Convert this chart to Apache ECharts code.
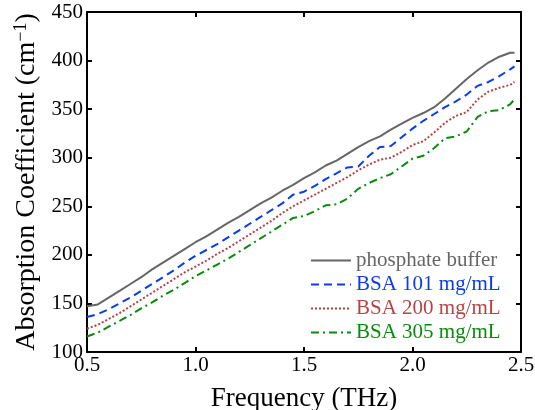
<!DOCTYPE html>
<html>
<head>
<meta charset="utf-8">
<script src="https://cdn.jsdelivr.net/npm/echarts@6/dist/echarts.min.js"></script>
<style>
  html, body { margin: 0; padding: 0; background: #fff; }
  #chart { width: 535px; height: 410px; }
</style>
</head>
<body>
<div id="chart"></div>
<script>
// frequency (THz)
const freq = [0.50, 0.55, 0.60, 0.65, 0.70, 0.75, 0.80, 0.85, 0.90, 0.95,
  1.00, 1.05, 1.10, 1.15, 1.20, 1.25, 1.30, 1.35, 1.40, 1.45,
  1.50, 1.55, 1.60, 1.65, 1.70, 1.75, 1.80, 1.85, 1.90, 1.95,
  2.00, 2.05, 2.10, 2.15, 2.20, 2.25, 2.30, 2.35, 2.40, 2.45, 2.47]

// absorption coefficient (cm^-1)
const buffer = [147, 149, 156, 163, 170, 177, 185, 192, 199, 206,
  213, 219, 226, 233, 239, 246, 253, 259, 266, 272,
  279, 285, 292, 297, 304, 311, 317, 322, 329, 335,
  341, 346, 352, 361, 371, 381, 390, 398, 404, 408, 408]
const bsa101 = [136, 139, 144, 150, 156, 163, 170, 177, 184, 192,
  199, 205, 211, 218, 225, 232, 239, 246, 253, 262,
  265, 271, 278, 284, 290, 291, 302, 311, 312, 321,
  330, 338, 345, 352, 358, 365, 374, 378, 384, 391, 394]
const bsa200 = [124, 128, 134, 140, 147, 154, 161, 168, 175, 182,
  188, 194, 201, 207, 214, 221, 228, 235, 243, 250,
  256, 262, 268, 274, 280, 287, 293, 298, 300, 306,
  313, 317, 326, 336, 343, 347, 360, 368, 372, 375, 378]
const bsa305 = [116, 120, 126, 132, 138, 145, 151, 158, 164, 171,
  178, 184, 190, 196, 203, 210, 217, 224, 231, 238,
  240, 245, 251, 252, 258, 268, 274, 279, 283, 291,
  299, 302, 310, 320, 322, 327, 342, 348, 349, 355, 360]

const names = ['phosphate buffer', 'BSA 101 mg/mL', 'BSA 200 mg/mL', 'BSA 305 mg/mL']
const colors = ['#666666', '#0a3de6', '#b54444', '#0a8c0a']
const dashes = ['solid', [8, 5], [2, 2], [8, 4, 2, 4]]

const pair = ys => freq.map((x, i) => [x, ys[i]])
const seriesData = [buffer, bsa101, bsa200, bsa305]

const font = 'Liberation Serif, Times New Roman, serif'

const chart = echarts.init(document.getElementById('chart'))

const axisCommon = {
  axisLine: { show: true, onZero: false, lineStyle: { color: '#000', width: 2 } },
  axisTick: { show: true, inside: true, length: 5, lineStyle: { color: '#000', width: 2 } },
  splitLine: { show: false }
}

chart.setOption({
  animation: false,
  // keep the plot box fixed, names may sit near the edge
  grid: { left: 87, right: 14, top: 12, bottom: 58, outerBoundsMode: 'none' },
  legend: {
    orient: 'vertical',
    left: 305,
    top: 245,
    itemWidth: 40,
    itemHeight: 14,
    itemGap: 3,
    itemStyle: { opacity: 0 },
    textStyle: { fontFamily: font, fontSize: 21 },
    data: names.map((n, i) => ({ name: n, textStyle: { color: colors[i] } }))
  },
  xAxis: [
    Object.assign({
      type: 'value',
      min: 0.5,
      max: 2.5,
      interval: 0.5,
      name: 'Frequency (THz)',
      nameLocation: 'middle',
      nameGap: 33,
      nameTextStyle: { fontFamily: font, fontSize: 27, color: '#000' },
      axisLabel: {
        margin: 3,
        fontFamily: font,
        fontSize: 21,
        color: '#000',
        formatter: v => v.toFixed(1)
      }
    }, axisCommon),
    Object.assign({
      type: 'value',
      position: 'top',
      min: 0.5,
      max: 2.5,
      interval: 0.5,
      axisLabel: { show: false }
    }, axisCommon)
  ],
  yAxis: [
    Object.assign({
      type: 'value',
      min: 100,
      max: 450,
      interval: 50,
      name: '{a|Absorption Coefficient (cm}{s|−1}{a|)}',
      nameLocation: 'middle',
      nameGap: 44,
      nameTextStyle: {
        fontFamily: font,
        color: '#000',
        rich: {
          a: { fontFamily: font, fontSize: 28, color: '#000' },
          s: { fontFamily: font, fontSize: 18, color: '#000', verticalAlign: 'top', padding: [0, 0, 10, 0] }
        }
      },
      axisLabel: { margin: 4, fontFamily: font, fontSize: 21, color: '#000' }
    }, axisCommon),
    Object.assign({
      type: 'value',
      position: 'right',
      min: 100,
      max: 450,
      interval: 50,
      axisLabel: { show: false }
    }, axisCommon)
  ],
  series: seriesData.map((ys, i) => ({
    name: names[i],
    type: 'line',
    data: pair(ys),
    symbol: 'none',
    showSymbol: false,
    smooth: false,
    lineStyle: { color: colors[i], width: 2, type: dashes[i] },
    itemStyle: { color: colors[i] }
  }))
})
</script>
</body>
</html>
